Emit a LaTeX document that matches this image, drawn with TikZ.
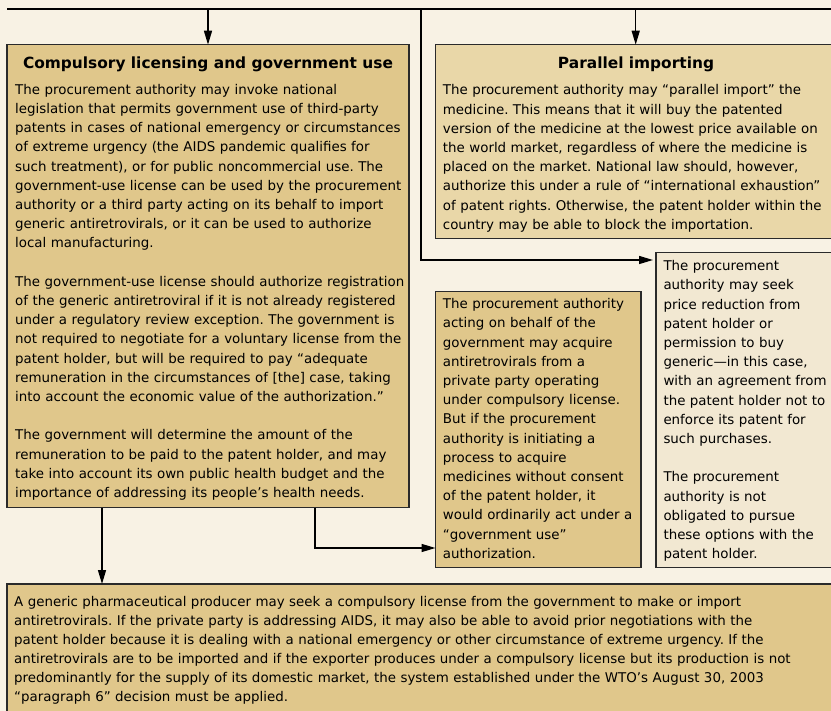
\documentclass[tikz,border=0pt]{standalone}
\usepackage{fontspec}
\setmainfont{DejaVu Sans}
\usetikzlibrary{arrows.meta}
\definecolor{bg}{HTML}{F8F2E4}
\definecolor{tanfill}{HTML}{E0C78B}
\definecolor{midfill}{HTML}{E9D7A8}
\definecolor{palefill}{HTML}{F2E8D2}
\definecolor{edgecol}{HTML}{2A2A2A}
\newcommand\bodyfont{\fontsize{13.4}{19.2}\selectfont\frenchspacing}
\newcommand\bottomfont{\fontsize{13.4}{19}\selectfont\frenchspacing}
\newcommand\titlefont{\fontsize{15.4}{18}\selectfont\bfseries}
\frenchspacing
\begin{document}
\begin{tikzpicture}[x=1pt,y=-1pt,
  boxshape/.style={draw=edgecol, line width=1.4pt, anchor=north west, inner sep=0pt, outer sep=0pt},
  txt/.style={anchor=base west, inner sep=0pt, align=left, font=\bodyfont, text width=#1},
  txt/.default=430pt,
  ttl/.style={anchor=base, inner sep=0pt, font=\titlefont},
  conn/.style={line width=1.4pt, draw=black},
  arr/.style={conn, -{Triangle[length=14pt,width=8pt]}}]
\useasboundingbox (0,0) rectangle (831,711);
\clip (0,0) rectangle (831,711);
\fill[bg] (0,0) rectangle (831,711);

% boxes
\node[boxshape, fill=tanfill, minimum width=402pt, minimum height=463pt] (cl) at (7,44.7) {};
\node[boxshape, fill=midfill, minimum width=401pt, minimum height=194pt] (pi) at (435.7,44.7) {};
\node[boxshape, fill=palefill, minimum width=184pt, minimum height=315pt] (pr) at (656,252.7) {};
\node[boxshape, fill=tanfill, minimum width=205.5pt, minimum height=276pt] (gv) at (435.5,291.7) {};
\node[boxshape, fill=tanfill, minimum width=834pt, minimum height=140pt] (gp) at (7,584) {};

% titles
\node[ttl] (clt) at (208,68.3) {Compulsory licensing and government use};
\node[ttl] (pit) at (636,68.3) {Parallel importing};

% texts
\node[txt] (clx) at (15,94.3) {The procurement authority may invoke national\\
legislation that permits government use of third-party\\
patents in cases of national emergency or circumstances\\
of extreme urgency (the AIDS pandemic qualifies for\\
such treatment), or for public noncommercial use. The\\
government-use license can be used by the procurement\\
authority or a third party acting on its behalf to import\\
generic antiretrovirals, or it can be used to authorize\\
local manufacturing.\\[19.2pt]
The government-use license should authorize registration\\
of the generic antiretroviral if it is not already registered\\
under a regulatory review exception. The government is\\
not required to negotiate for a voluntary license from the\\
patent holder, but will be required to pay “adequate\\
remuneration in the circumstances of [the] case, taking\\
into account the economic value of the authorization.”\\[19.2pt]
The government will determine the amount of the\\
remuneration to be paid to the patent holder, and may\\
take into account its own public health budget and the\\
importance of addressing its people’s health needs.};

\node[txt] (pix) at (442.7,95) {The procurement authority may “parallel import” the\\
medicine. This means that it will buy the patented\\
version of the medicine at the lowest price available on\\
the world market, regardless of where the medicine is\\
placed on the market. National law should, however,\\
authorize this under a rule of “international exhaustion”\\
of patent rights. Otherwise, the patent holder within the\\
country may be able to block the importation.};

\node[txt=200pt] (prx) at (663.3,270.7) {The procurement\\
authority may seek\\
price reduction from\\
patent holder or\\
permission to buy\\
generic—in this case,\\
with an agreement from\\
the patent holder not to\\
enforce its patent for\\
such purchases.\\[19.2pt]
The procurement\\
authority is not\\
obligated to pursue\\
these options with the\\
patent holder.};

\node[txt=220pt] (gvx) at (442.7,308.8) {The procurement authority\\
acting on behalf of the\\
government may acquire\\
antiretrovirals from a\\
private party operating\\
under compulsory license.\\
But if the procurement\\
authority is initiating a\\
process to acquire\\
medicines without consent\\
of the patent holder, it\\
would ordinarily act under a\\
“government use”\\
authorization.};

\node[txt=830pt, font=\bottomfont] (gpx) at (14,606.7) {A generic pharmaceutical producer may seek a compulsory license from the government to make or import\\
antiretrovirals. If the private party is addressing AIDS, it may also be able to avoid prior negotiations with the\\
patent holder because it is dealing with a national emergency or other circumstance of extreme urgency. If the\\
antiretrovirals are to be imported and if the exporter produces under a compulsory license but its production is not\\
predominantly for the supply of its domestic market, the system established under the WTO’s August 30, 2003\\
“paragraph 6” decision must be applied.};

% connectors
\coordinate (tl) at (7,9.3);
\coordinate (tr) at (840,9.3);
\coordinate (pa) at (635.7,9.3);
\coordinate (vj) at (421,9.3);
\coordinate (hy) at (0,260);
\coordinate (c1) at (315,548);
\coordinate (c2) at (102,0);
\draw[conn, line width=1.8pt] (tl) -- (tr);
\draw[arr] (cl.north |- tl) -- (cl.north);
\draw[arr] (pa) -- (pa |- pi.north);
\draw[arr, shorten >=3pt] (vj) |- (pr.west |- hy);
\draw[arr] (cl.south -| c1) |- (gv.west |- c1);
\draw[arr] (cl.south -| c2) -- (gp.north -| c2);
\end{tikzpicture}
\end{document}
